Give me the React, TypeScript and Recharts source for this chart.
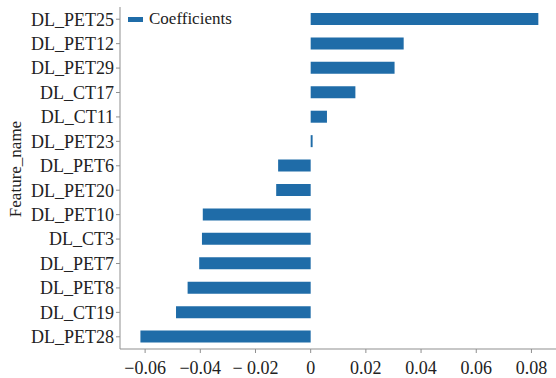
import React from 'react';
import { BarChart, Bar, XAxis, YAxis, Legend } from 'recharts';

// feature names listed top to bottom, with their fitted coefficients
const FEATURES = [
  'DL_PET25', 'DL_PET12', 'DL_PET29', 'DL_CT17', 'DL_CT11', 'DL_PET23', 'DL_PET6',
  'DL_PET20', 'DL_PET10', 'DL_CT3', 'DL_PET7', 'DL_PET8', 'DL_CT19', 'DL_PET28',
];
const COEFFICIENTS = [
  0.0825, 0.0337, 0.0304, 0.0162, 0.0059, 0.0007, -0.0118,
  -0.0125, -0.0391, -0.0394, -0.0404, -0.0446, -0.0488, -0.0617,
];
const X_TICKS = [-0.06, -0.04, -0.02, 0, 0.02, 0.04, 0.06, 0.08];
const X_TICK_LABELS = ['−0.06', '−0.04', '− 0.02', '0', '0.02', '0.04', '0.06', '0.08'];

const data = FEATURES.map((name, i) => ({ name, coef: COEFFICIENTS[i] }));

const BLUE = '#1f6ca8';
const AXIS = '#8f8f8f';
const INK = '#222';
const FONT = 'Liberation Serif, Times New Roman, serif';
const DOMAIN: [number, number] = [-0.0691, 0.0889];

const tickFmt = (v: number) => {
  const i = X_TICKS.findIndex((t) => Math.abs(t - v) < 1e-9);
  return i >= 0 ? X_TICK_LABELS[i] : String(v);
};

const tickStyle = { fill: INK, fontSize: 18, style: { fontFamily: FONT } };

const LegendBox = () => (
  <div style={{ display: 'flex', alignItems: 'center', fontFamily: FONT, fontSize: 17, color: INK }}>
    <span style={{ width: 15, height: 5, background: BLUE, marginRight: 6, display: 'inline-block' }} />
    <span>Coefficients</span>
  </div>
);

const AxisTitle = () => (
  <text
    x={21}
    y={169}
    transform="rotate(-90, 21, 169)"
    textAnchor="middle"
    fill={INK}
    fontSize={17}
    style={{ fontFamily: FONT }}
  >
    Feature_name
  </text>
);

const App: React.FC = () => {
  return (
    <div style={{ position: 'absolute', left: 0, top: 0, background: '#fff', fontFamily: FONT }}>
      <BarChart
        width={556}
        height={378}
        data={data}
        layout="vertical"
        margin={{ top: 7, right: 0, left: 0, bottom: 0 }}
        style={{ fontFamily: FONT }}
      >
        <XAxis
          type="number"
          dataKey="coef"
          domain={DOMAIN}
          ticks={X_TICKS}
          tickFormatter={tickFmt}
          allowDataOverflow
          height={29}
          tickSize={4}
          tickMargin={8}
          stroke={AXIS}
          tick={tickStyle}
        />
        <XAxis
          xAxisId="top"
          type="number"
          orientation="top"
          domain={DOMAIN}
          allowDataOverflow
          height={0}
          tick={false}
          tickLine={false}
          stroke={AXIS}
        />
        <YAxis
          type="category"
          dataKey="name"
          width={120}
          tickSize={4}
          tickMargin={2}
          stroke={AXIS}
          interval={0}
          tick={tickStyle}
          label={<AxisTitle />}
        />
        <Legend
          layout="horizontal"
          verticalAlign="middle"
          align="center"
          content={<LegendBox />}
          wrapperStyle={{ position: 'absolute', left: 128, top: 9, width: 'auto' }}
        />
        <Bar dataKey="coef" fill={BLUE} barSize={12} isAnimationActive={false} />
      </BarChart>
    </div>
  );
};

export default App;
